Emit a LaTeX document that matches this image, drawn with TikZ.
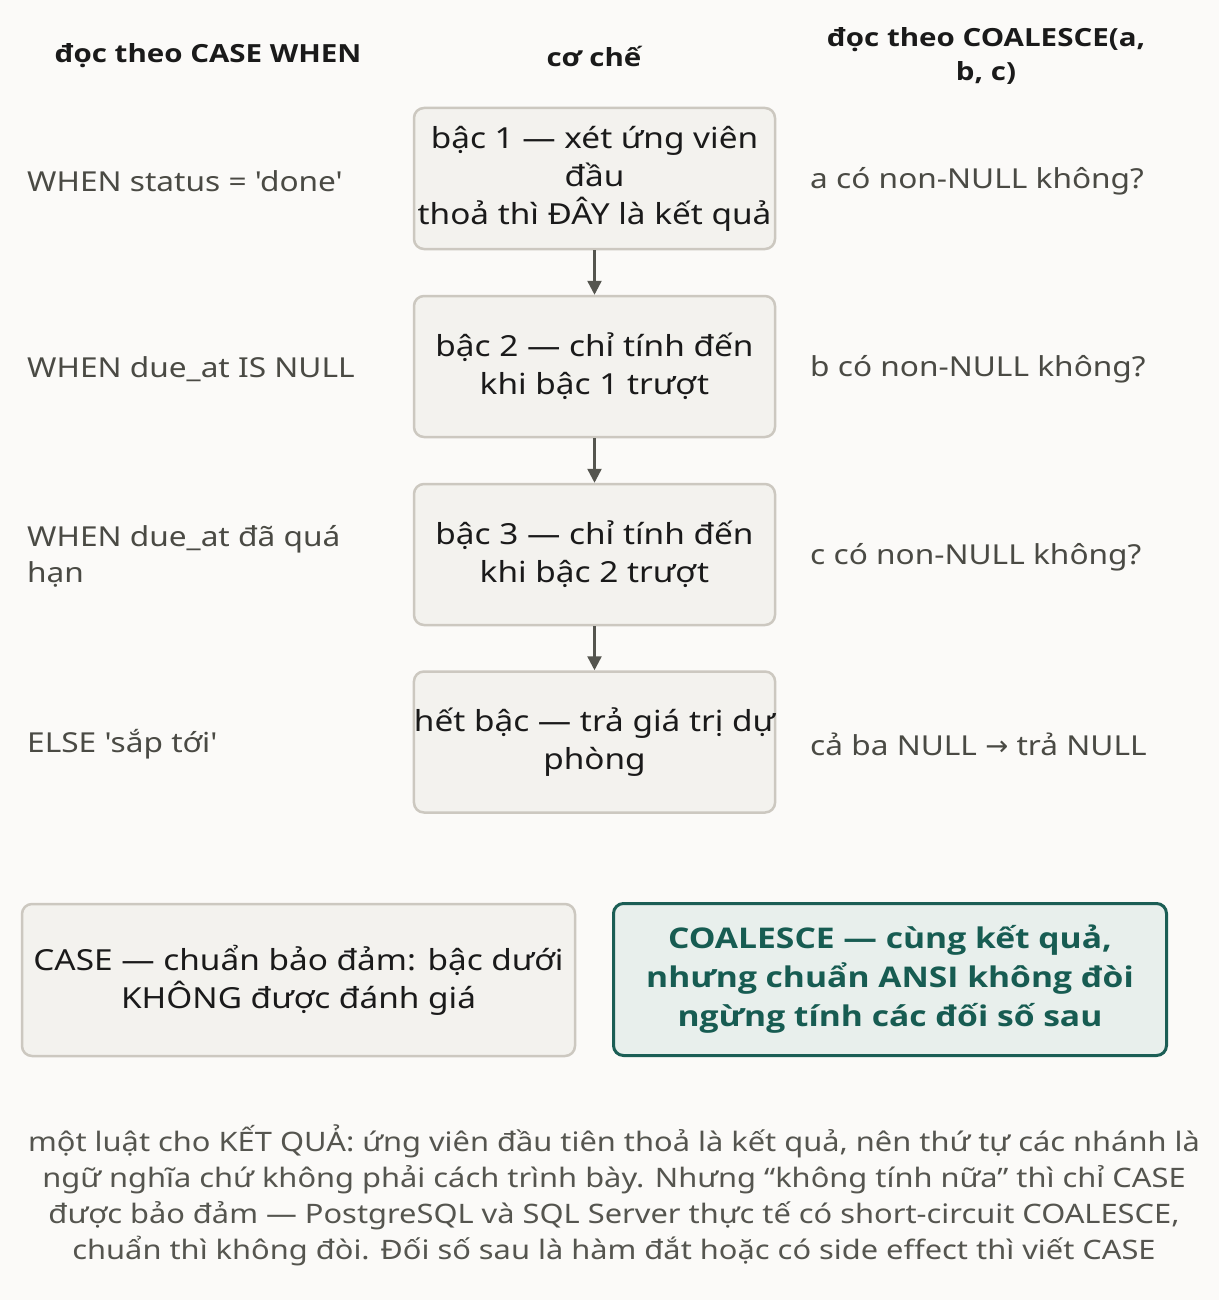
\documentclass[tikz,border=0pt]{standalone}
\usepackage{fontspec}
\setmainfont{Noto Sans}[FakeStretch=1.15, Ligatures=TeXOff]
\newfontfamily\boldfam{Open Sans}[FakeStretch=1.18]
\newfontfamily\arrowfont{DejaVu Sans}
\usetikzlibrary{arrows.meta}
\definecolor{bg}{HTML}{FBFAF8}
\definecolor{boxfill}{HTML}{F3F2EE}
\definecolor{boxline}{HTML}{CCC8C0}
\definecolor{arrowc}{HTML}{55554F}
\definecolor{labelc}{HTML}{4A4A44}
\definecolor{headc}{HTML}{1A1A1A}
\definecolor{tealline}{HTML}{1B5E55}
\definecolor{tealfill}{HTML}{E8EFEC}
\definecolor{tealtext}{HTML}{175C52}
\definecolor{footc}{HTML}{55554F}
\begin{document}
\begin{tikzpicture}[x=1pt,y=-1pt,
  stepbox/.style={draw=boxline, fill=boxfill, line width=2.5pt, rounded corners=10pt,
    minimum width=361pt, minimum height=141pt, align=center, inner sep=0pt,
    font=\fontsize{29}{38}\selectfont, text=headc},
  sidelabel/.style={anchor=west, align=left, inner sep=0pt, text=labelc,
    font=\fontsize{27.5}{36}\selectfont},
  header/.style={align=center, inner sep=0pt, text=headc,
    font=\fontsize{25}{34}\selectfont\boldfam\bfseries},
  flowarrow/.style={draw=arrowc, line width=2.5pt, -{Triangle[length=14pt,width=14pt]}},
  notebox/.style={draw=boxline, fill=boxfill, line width=2.5pt, rounded corners=10pt,
    minimum width=553pt, minimum height=152pt, align=center, inner sep=0pt,
    font=\fontsize{29}{38}\selectfont, text=headc},
  tealbox/.style={draw=tealline, fill=tealfill, line width=3pt, rounded corners=10pt,
    minimum width=553pt, minimum height=152pt, align=center, inner sep=0pt,
    font=\fontsize{28.5}{39}\selectfont\boldfam\bfseries, text=tealtext},
  footnote/.style={align=center, inner sep=0pt, text=footc,
    font=\fontsize{26.8}{36}\selectfont}
]
\fill[bg] (0,0) rectangle (1219,1300);

% headers
\node[header] (h1) at (208,56) {đọc theo CASE WHEN};
\node[header] (h2) at (594,56) {cơ chế};
\node[header] (h3) at (986,56) {đọc theo COALESCE(a,\\b, c)};

% step boxes
\node[stepbox] (s1) at (594.5,178.5) {bậc 1 — xét ứng viên\\đầu\\thoả thì ĐÂY là kết quả};
\node[stepbox] (s2) at (594.5,366.5) {bậc 2 — chỉ tính đến\\khi bậc 1 trượt};
\node[stepbox] (s3) at (594.5,554.5) {bậc 3 — chỉ tính đến\\khi bậc 2 trượt};
\node[stepbox] (s4) at (594.5,742) {hết bậc — trả giá trị dự\\phòng};

\draw[flowarrow] (s1) -- (s2);
\draw[flowarrow] (s2) -- (s3);
\draw[flowarrow] (s3) -- (s4);

% left labels
\node[sidelabel] (l1) at (27,181) {WHEN status = 'done'};
\node[sidelabel] (l2) at (27,369) {WHEN due\_at IS NULL};
\node[sidelabel] (l3) at (27,556) {WHEN due\_at đã quá\\hạn};
\node[sidelabel] (l4) at (27,744) {ELSE 'sắp tới'};

% right labels
\node[sidelabel] (r1) at (810,181) {a có non-NULL không?};
\node[sidelabel] (r2) at (810,369) {b có non-NULL không?};
\node[sidelabel] (r3) at (810,557) {c có non-NULL không?};
\node[sidelabel] (r4) at (810,744) {cả ba NULL {\arrowfont →} trả NULL};

% bottom boxes
\node[notebox] (n1) at (298.5,980) {CASE — chuẩn bảo đảm: bậc dưới\\KHÔNG được đánh giá};
\node[tealbox] (n2) at (890,979.5) {COALESCE — cùng kết quả,\\nhưng chuẩn ANSI không đòi\\ngừng tính các đối số sau};

% footnote
\node[footnote] (f) at (614,1195) {một luật cho KẾT QUẢ: ứng viên đầu tiên thoả là kết quả, nên thứ tự các nhánh là\\ngữ nghĩa chứ không phải cách trình bày. Nhưng “không tính nữa” thì chỉ CASE\\được bảo đảm — PostgreSQL và SQL Server thực tế có short-circuit COALESCE,\\chuẩn thì không đòi. Đối số sau là hàm đắt hoặc có side effect thì viết CASE};
\end{tikzpicture}
\end{document}
